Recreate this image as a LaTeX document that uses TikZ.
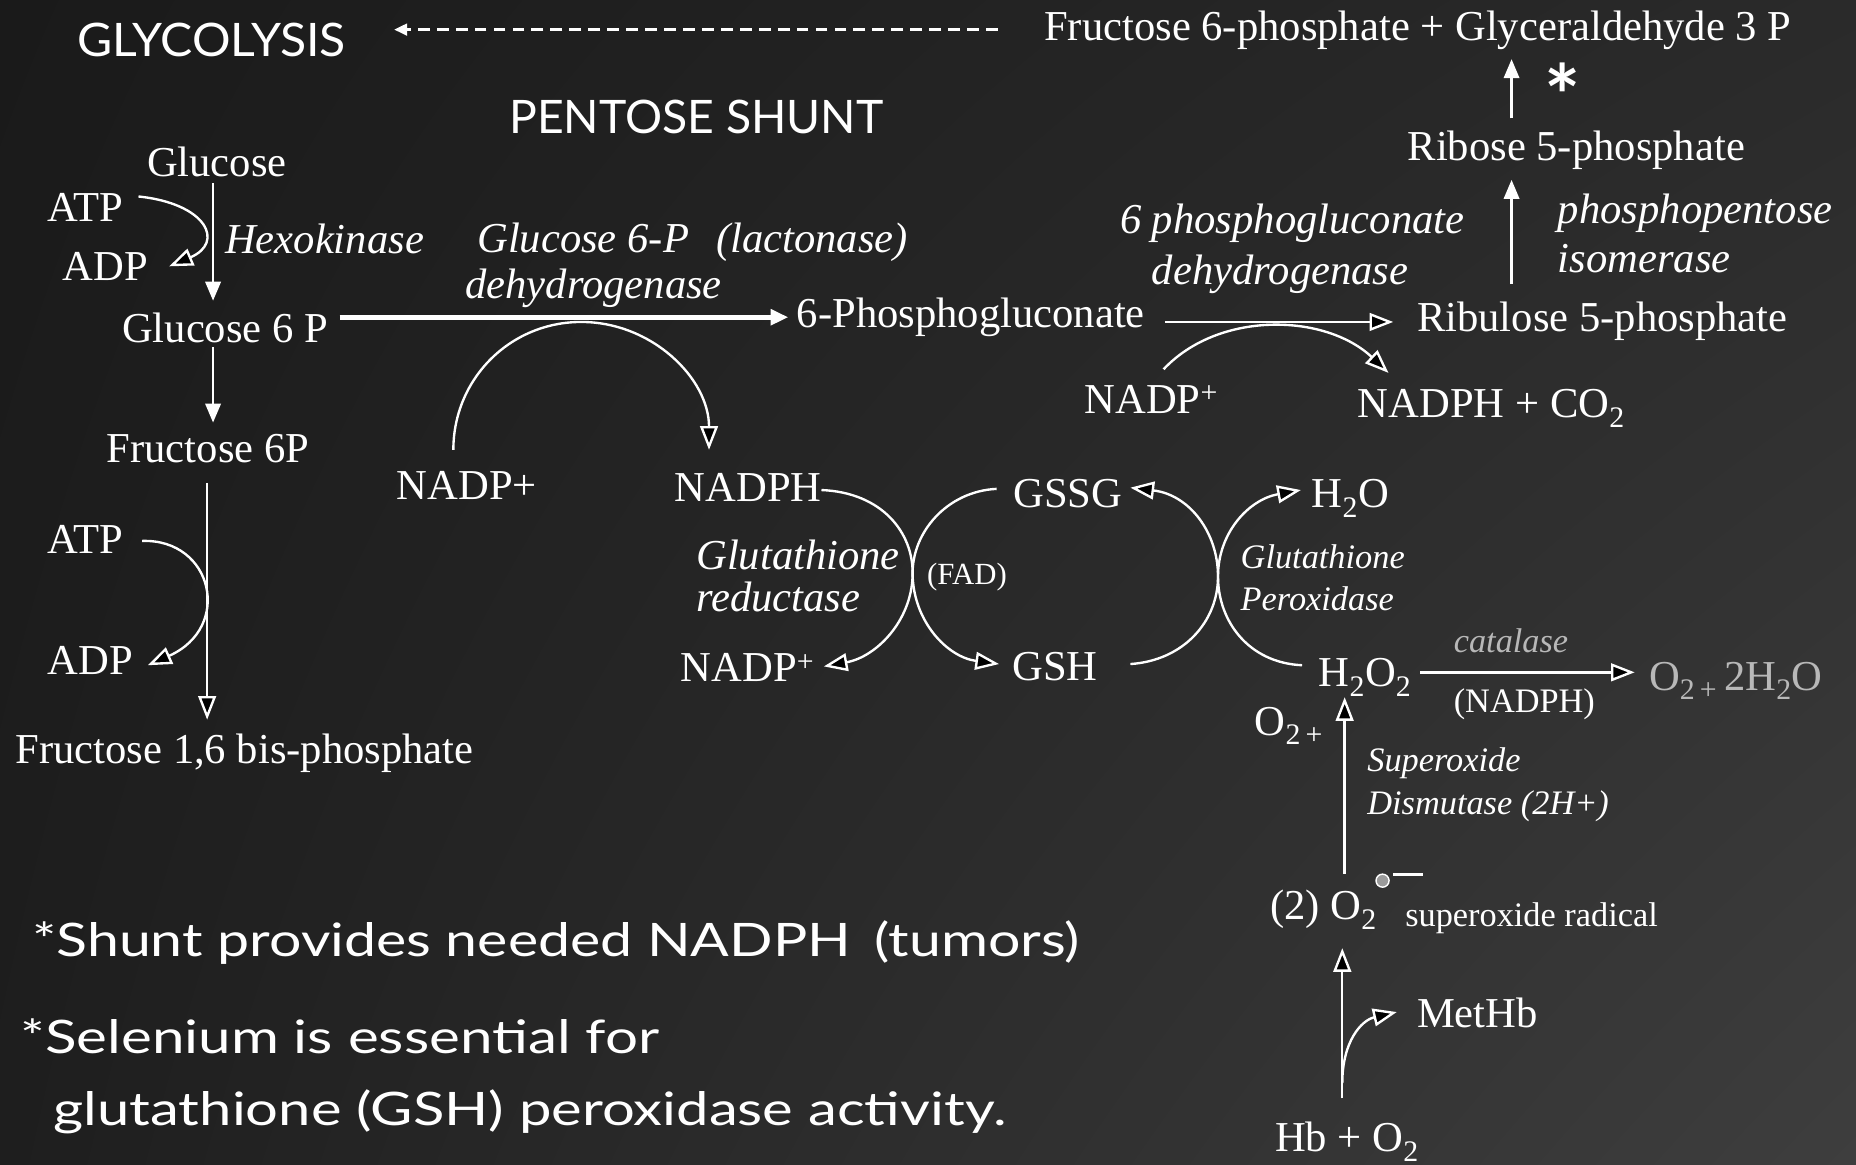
\documentclass[tikz,border=0pt]{standalone}
\usepackage{fontspec}
\usepackage{graphicx}
\setmainfont{Liberation Serif}
\newfontfamily\comicfont{Lato}
\usetikzlibrary{arrows.meta,shadings}
\definecolor{bgUL}{HTML}{1A1A1A}
\definecolor{bgUR}{HTML}{2A2A2A}
\definecolor{bgLL}{HTML}{1E1E1E}
\definecolor{bgLR}{HTML}{3E3E3E}
\definecolor{paleText}{HTML}{B8B8B8}
\definecolor{dotGray}{HTML}{9A9A9A}
\newcommand\comicline[2]{\resizebox{#1}{\height}{\comicfont\fontsize{39}{44}\selectfont #2}}
\begin{document}
\begin{tikzpicture}[x=1pt,y=-1pt,
  every node/.style={inner sep=0pt, anchor=base west, text=white},
  t/.style={font=\fontsize{36}{40}\selectfont},
  ti/.style={font=\fontsize{36}{40}\selectfont\itshape},
  ts/.style={font=\fontsize{29}{32}\selectfont},
  tsi/.style={font=\fontsize{29}{32}\selectfont\itshape},
  conn/.style={draw=white, line width=2pt},
  sarr/.style={conn, -{Triangle[length=16pt,width=13pt]}},
  oarr/.style={conn, -{Triangle[length=20pt,width=15pt,fill=black]}},
]
% background
\shade[upper left=bgUL, upper right=bgUR, lower left=bgLL, lower right=bgLR] (0,0) rectangle (1568,984);
\useasboundingbox (0,0) rectangle (1568,984);

% headings (handwritten style)
\node (glyco) at (65,48) {\comicline{227pt}{GLYCOLYSIS}};
\node (pent) at (430,113) {\comicline{316pt}{PENTOSE SHUNT}};
\node (shunt) at (27,808) {\comicline{885pt}{*Shunt provides needed NADPH\hspace{0.15em} (tumors)}};
\node (sel1) at (17,890) {\comicline{540pt}{*Selenium is essential for}};
\node (sel2) at (45,951) {\comicline{805pt}{glutathione (GSH) peroxidase activity.}};

% top right
\node[t] (f6pg3p) at (882,34) {Fructose 6-phosphate + Glyceraldehyde 3 P};
\node[anchor=base, font=\comicfont\bfseries\fontsize{72}{72}\selectfont] (star) at (1320,80) {\raisebox{-28pt}[24pt][0pt]{*}};
\node[t] (ribose) at (1189,136) {Ribose 5-phosphate};
\node[ti] (ppi1) at (1316,189) {phosphopentose};
\node[ti] (ppi2) at (1316,230) {isomerase};
\node[ti] (pgd1) at (946,197) {6 phosphogluconate};
\node[ti] (pgd2) at (973,240) {dehydrogenase};
\node[t] (ru5p) at (1197,280) {Ribulose 5-phosphate};
\node[t] (nadpR) at (916,349) {NADP\textsuperscript{+}};
\node[t] (nadphco2) at (1147,353) {NADPH + CO\textsubscript{2}};

% glycolysis column
\node[t] (glc) at (124,149) {Glucose};
\node[t] (atp1) at (40,187) {ATP};
\node[t] (adp1) at (53,237) {ADP};
\node[ti] (hexo) at (190,214) {Hexokinase};
\node[t] (g6p) at (103,289) {Glucose 6 P};
\node[t] (f6p) at (90,391) {Fructose 6P};
\node[t] (atp2) at (40,468) {ATP};
\node[t] (adp2) at (40,570) {ADP};
\node[t] (f16) at (13,645) {Fructose 1,6 bis-phosphate};

% G6PD
\node[ti] (g6pd1) at (403,213) {Glucose 6-P\hspace{23pt}(lactonase)};
\node[ti] (g6pd2) at (393,252) {dehydrogenase};
\node[t] (pg6) at (673,277) {6-Phosphogluconate};
\node[t] (nadpL) at (335,422) {NADP+};
\node[t] (nadph) at (570,424) {NADPH};

% glutathione cycle
\node[ti] (gr1) at (588,481) {Glutathione};
\node[ti] (gr2) at (588,517) {reductase};
\node[font=\fontsize{26}{30}\selectfont] (fad) at (783,494) {(FAD)};
\node[t] (nadpB) at (575,576) {NADP\textsuperscript{+}};
\node[t] (gssg) at (856,429) {GSSG};
\node[t] (gsh) at (855,575) {GSH};
\node[t] (h2o) at (1108,429) {H\textsubscript{2}O};
\node[tsi] (gp1) at (1048,480) {Glutathione};
\node[tsi] (gp2) at (1048,516) {Peroxidase};
\node[t] (h2o2) at (1114,580) {H\textsubscript{2}O\textsubscript{2}};
\node[tsi, text=paleText] (cat) at (1228,551) {catalase};
\node[ts] (nadphc) at (1228,602) {(NADPH)};
\node[t, text=paleText] (o2h2o) at (1393,583) {O\textsubscript{2\,+}\,2H\textsubscript{2}O};
\node[t] (o2p) at (1060,621) {O\textsubscript{2\,+}};
\node[tsi] (sod1) at (1155,652) {Superoxide};
\node[tsi] (sod2) at (1155,688) {Dismutase (2H+)};
\node[t] (o2rad) at (1073,777) {(2) O\textsubscript{2}};
\node[ts] (srad) at (1187,783) {superoxide radical};
\node[t] (methb) at (1197,868) {MetHb};
\node[t] (hbo2) at (1077,973) {Hb + O\textsubscript{2}};

% radical marks
\node[circle, draw=white, fill=dotGray, line width=1.2pt, minimum size=11pt, anchor=center] (rdot) at (1168,744) {};
\coordinate (barA) at (1177,739);
\coordinate (barB) at (1202,739);
\draw[white, line width=2.5pt] (barA) -- (barB);

% connector end points
\coordinate (dashS) at (843,25);  \coordinate (dashE) at (333,25);
\coordinate (up1S) at (1277,100); \coordinate (up1E) at (1277,50);
\coordinate (up2S) at (1277,240); \coordinate (up2E) at (1277,152);
\coordinate (hexS) at (180,155);  \coordinate (hexE) at (180,254);
\coordinate (a1S) at (117,166);   \coordinate (a1E) at (143,225);
\coordinate (g6S) at (287,268);   \coordinate (g6E) at (666,268);
\coordinate (arcS) at (383,380);  \coordinate (arcT) at (491,272); \coordinate (arcE) at (599,380);
\coordinate (ruS) at (984,272);   \coordinate (ruE) at (1177,272);
\coordinate (npS) at (983,312);   \coordinate (npE) at (1173,315);
\coordinate (gfS) at (180,293);   \coordinate (gfE) at (180,357);
\coordinate (ffS) at (175,408);   \coordinate (ffE) at (175,608);
\coordinate (a2S) at (120,457);   \coordinate (a2E) at (125,562);
\coordinate (nhS) at (694,414);   \coordinate (xL) at (771,486); \coordinate (nhE) at (696,563);
\coordinate (gsS) at (842,413);   \coordinate (gsE) at (844,561);
\coordinate (ghS) at (955,561);   \coordinate (xR) at (1029,487); \coordinate (ghE) at (955,412);
\coordinate (hoS) at (1100,562);  \coordinate (hoE) at (1099,414);
\coordinate (catS) at (1200,568); \coordinate (catE) at (1381,568);
\coordinate (sodS) at (1136,738); \coordinate (sodE) at (1136,589);
\coordinate (hbS) at (1134,928);  \coordinate (hbE) at (1134,801);
\coordinate (mhS) at (1134,915);  \coordinate (mhE) at (1180,855);

% connectors
\draw[conn, dash pattern=on 10pt off 6pt, -{Triangle[length=11pt,width=10pt]}] (dashS) -- (dashE);
\draw[sarr] (up1S) -- (up1E);
\draw[sarr] (up2S) -- (up2E);
\draw[sarr] (hexS) -- (hexE);
\draw[oarr] (a1S) .. controls (175,172) and (190,205) .. (a1E);
\draw[conn, line width=4pt, -{Triangle[length=15pt,width=13pt]}] (g6S) -- (g6E);
\draw[oarr] (arcS) .. controls (383,320) and (431,272) .. (arcT) .. controls (551,272) and (599,320) .. (arcE);
\draw[oarr] (ruS) -- (ruE);
\draw[oarr] (npS) .. controls (1030,262) and (1120,265) .. (npE);
\draw[sarr] (gfS) -- (gfE);
\draw[oarr] (ffS) -- (ffE);
\draw[oarr] (a2S) .. controls (180,455) and (197,530) .. (a2E);
\draw[oarr] (nhS) .. controls (745,416) and (772,450) .. (xL) .. controls (770,525) and (740,555) .. (nhE);
\draw[oarr] (gsS) .. controls (800,415) and (770,450) .. (xL) .. controls (772,525) and (800,555) .. (gsE);
\draw[oarr] (ghS) .. controls (1000,558) and (1029,525) .. (xR) .. controls (1029,450) and (1005,418) .. (ghE);
\draw[oarr] (hoS) .. controls (1055,560) and (1029,525) .. (xR) .. controls (1029,450) and (1055,422) .. (hoE);
\draw[oarr] (catS) -- (catE);
\draw[oarr] (sodS) -- (sodE);
\draw[oarr] (hbS) -- (hbE);
\draw[oarr] (mhS) .. controls (1134,880) and (1150,862) .. (mhE);
\end{tikzpicture}
\end{document}
